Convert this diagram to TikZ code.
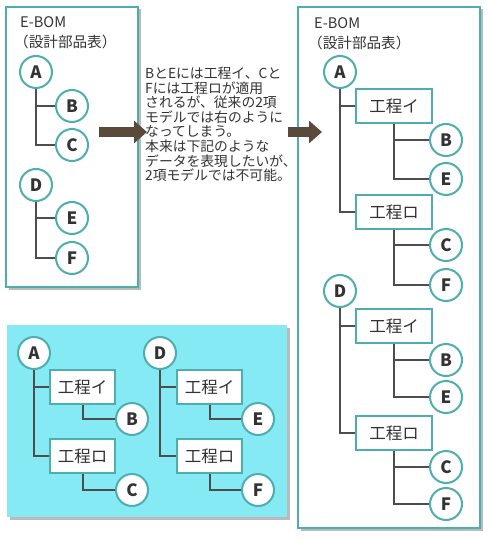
\documentclass[tikz,border=0pt]{standalone}
\usepackage{fontspec}
\setmainfont{Noto Sans CJK JP}
\usetikzlibrary{shadows,arrows.meta}
\definecolor{teal1}{HTML}{4DAEAD}
\definecolor{lgray}{HTML}{4D4D4D}
\definecolor{cyan1}{HTML}{86EAF4}
\definecolor{brown1}{HTML}{5A4A3C}
\definecolor{txt}{HTML}{333333}
\tikzset{
  panel/.style={draw=teal1, line width=2pt, fill=white, drop shadow={shadow xshift=2.5pt, shadow yshift=-2.5pt, fill=black!45, opacity=0.6}},
  cpanel/.style={fill=cyan1, drop shadow={shadow xshift=2.5pt, shadow yshift=-2.5pt, fill=black!45, opacity=0.6}},
  circ/.style={circle, draw=teal1, line width=2pt, fill=white, minimum size=32pt, inner sep=0pt, text=txt, font=\fontsize{17}{17}\selectfont\bfseries},
  proc/.style={rectangle, draw=teal1, line width=2pt, fill=white, minimum width=#1, minimum height=34pt, inner sep=0pt, text=txt, font=\fontsize{16.5}{16.5}\selectfont},
  proc/.default=76pt,
  edge/.style={draw=lgray, line width=2pt},
  bigarrow/.style={draw=brown1, line width=10pt, -{Triangle[width=22pt,length=13pt]}},
  title/.style={anchor=west, inner sep=0pt, text=txt, font=\fontsize{14.6}{14.6}\selectfont},
}
\begin{document}
\begin{tikzpicture}[x=1pt,y=-1pt]
\useasboundingbox[fill=white] (0,0) rectangle (490,540);
% panels
\path[panel] (6,7) rectangle (138,287);
\path[panel] (298,7) rectangle (480,528);
\path[cpanel] (7,325) rectangle (287,517);
% left E-BOM
\node[title] (t1) at (20,22) {E-BOM};
\node[title] (t2) at (14,42) {（設計部品表）};
\node[circ] (la) at (36,72) {A};
\node[circ] (lb) at (72,106) {B};
\node[circ] (lc) at (72,145) {C};
\node[circ] (ld) at (36,185) {D};
\node[circ] (le) at (72,218) {E};
\node[circ] (lf) at (72,258) {F};
% middle text
\node[anchor=north west, inner sep=0pt, align=left, text=txt, font=\fontsize{13.8}{14.6}\selectfont] (mt) at (145,67) {BとEには工程イ、Cと\\Fには工程ロが適用\\されるが、従来の2項\\モデルでは右のように\\なってしまう。\\本来は下記のような\\データを表現したいが、\\2項モデルでは不可能。};
% right E-BOM
\node[title] (t3) at (314,23) {E-BOM};
\node[title] (t4) at (308,43) {（設計部品表）};
\node[circ] (ra) at (340,72) {A};
\node[proc] (rp1) at (394,106) {工程イ};
\node[circ] (rb1) at (446,140) {B};
\node[circ] (re1) at (446,179) {E};
\node[proc] (rp2) at (394,212) {工程ロ};
\node[circ] (rc1) at (446,245) {C};
\node[circ] (rf1) at (446,285) {F};
\node[circ] (rd) at (340,291) {D};
\node[proc] (rp3) at (394,326) {工程イ};
\node[circ] (rb2) at (446,360) {B};
\node[circ] (re2) at (446,397) {E};
\node[proc] (rp4) at (394,433) {工程ロ};
\node[circ] (rc2) at (446,467) {C};
\node[circ] (rf2) at (446,504) {F};
% cyan panel
\node[circ] (ca) at (34,353) {A};
\node[proc=65pt] (cp1) at (82.5,387) {工程イ};
\node[circ] (cb) at (132,419) {B};
\node[proc=65pt] (cp2) at (82.5,456) {工程ロ};
\node[circ] (cc) at (132,490) {C};
\node[circ] (cd) at (160,353) {D};
\node[proc=65pt] (cp3) at (209.5,387) {工程イ};
\node[circ] (ce) at (258,419) {E};
\node[proc=65pt] (cp4) at (209.5,456) {工程ロ};
\node[circ] (cf) at (258,490) {F};
% edges
\path[edge] (la.south) |- (lb.west) (la.south) |- (lc.west);
\path[edge] (ld.south) |- (le.west) (ld.south) |- (lf.west);
\path[edge] (ra.south) |- (rp1.west) (ra.south) |- (rp2.west);
\path[edge] (rp1.south) |- (rb1.west) (rp1.south) |- (re1.west);
\path[edge] (rp2.south) |- (rc1.west) (rp2.south) |- (rf1.west);
\path[edge] (rd.south) |- (rp3.west) (rd.south) |- (rp4.west);
\path[edge] (rp3.south) |- (rb2.west) (rp3.south) |- (re2.west);
\path[edge] (rp4.south) |- (rc2.west) (rp4.south) |- (rf2.west);
\path[edge] (ca.south) |- (cp1.west) (ca.south) |- (cp2.west);
\path[edge] (cp1.south) |- (cb.west) (cp2.south) |- (cc.west);
\path[edge] (cd.south) |- (cp3.west) (cd.south) |- (cp4.west);
\path[edge] (cp3.south) |- (ce.west) (cp4.south) |- (cf.west);
% arrows
\coordinate (a1s) at (99,132);
\coordinate (a1e) at (147,132);
\coordinate (a2s) at (288,132);
\coordinate (a2e) at (322,132);
\draw[bigarrow] (a1s) -- (a1e);
\draw[bigarrow] (a2s) -- (a2e);
\end{tikzpicture}
\end{document}
